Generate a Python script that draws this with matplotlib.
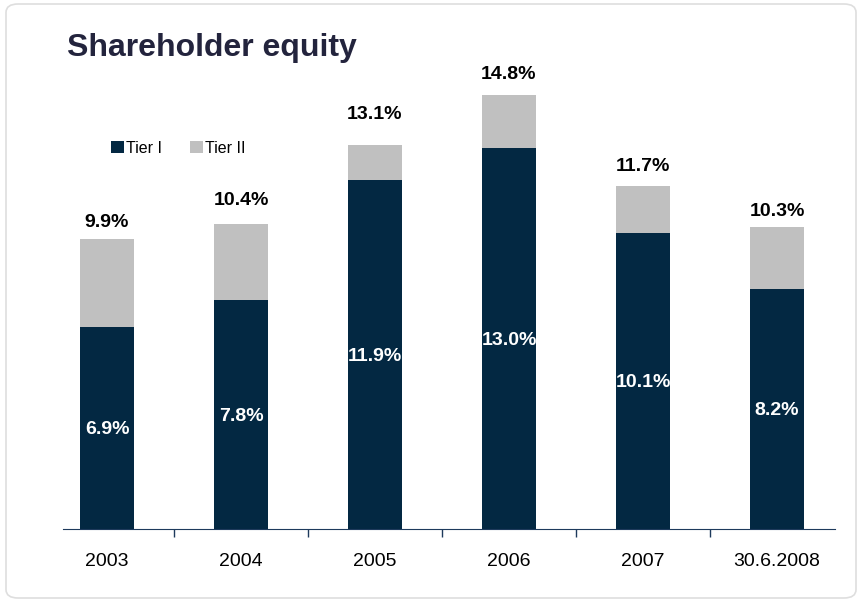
import matplotlib

matplotlib.use("Agg")
import matplotlib.pyplot as plt
from matplotlib.patches import FancyBboxPatch, Rectangle

plt.rcParams["font.family"] = ["Liberation Sans", "DejaVu Sans"]

# datos (capital en % de activos ponderados por riesgo)
periodos = ["2003", "2004", "2005", "2006", "2007", "30.6.2008"]
tier1 = [6.9, 7.8, 11.9, 13.0, 10.1, 8.2]
total = [9.9, 10.4, 13.1, 14.8, 11.7, 10.3]
tier2 = [round(t - a, 1) for t, a in zip(total, tier1)]

NAVY = "#032842"
GRIS = "#c0c0c0"

fig = plt.figure(figsize=(8.6, 6.02), dpi=100)
ax = fig.add_axes([40 / 860, 73 / 602, 804 / 860, 469 / 602])

x = list(range(len(periodos)))
ax.bar(x, tier1, width=0.4, color=NAVY, label="Tier I")
ax.bar(x, tier2, width=0.4, bottom=tier1, color=GRIS, label="Tier II")

# etiquetas dentro del Tier I
for xi, v in zip(x, tier1):
    ax.text(xi, v / 2, f"{v:.1f}%", ha="center", va="center_baseline", color="white",
            fontsize=14, fontweight="bold")

# etiquetas del total (desplazamiento en px, como en el original)
desplaz = [18, 25.5, 33, 23, 22, 18]
for xi, v, d in zip(x, total, desplaz):
    t = ax.annotate(f"{v:.1f}%", (xi, v), xytext=(0, d * 0.72), textcoords="offset points",
                    ha="center", va="center_baseline", fontsize=14, fontweight="bold",
                    color="black")
    if xi == 1:
        # en el original el "10.4%" sale recortado justo en la linea base
        recorte = Rectangle((0, (602 - 206.5) / 602), 1, 1, transform=fig.transFigure)
        t.set_clip_on(True)
        t.set_clip_path(recorte)

ax.set_xlim(-0.5, 5.5)
ax.set_ylim(0, 16)
for lado in ["top", "right", "left"]:
    ax.spines[lado].set_visible(False)
ax.spines["bottom"].set_color("#1e3a5c")
ax.spines["bottom"].set_bounds(-0.33, 5.43)
ax.set_yticks([])
ax.set_xticks(x)
ax.set_xticklabels(periodos, fontsize=14)
ax.tick_params(axis="x", which="major", length=0, pad=17)
ax.set_xticks([0.5, 1.5, 2.5, 3.5, 4.5], minor=True)
ax.tick_params(axis="x", which="minor", length=6, color="#1e3a5c", width=1)

fig.legend(loc="center left", bbox_to_anchor=(111 / 860, 1 - 148 / 602), ncol=2,
           frameon=False, fontsize=11.5, handlelength=0.8, handleheight=0.8,
           handletextpad=0.15, columnspacing=1.75, borderpad=0, borderaxespad=0)

fig.text(67 / 860, 1 - 48 / 602, "Shareholder equity", fontsize=23, fontweight="bold",
         color="#23243d", va="center", ha="left")

marco = FancyBboxPatch((6 / 860, 4 / 602), 850 / 860, 594 / 602,
                       boxstyle="round,pad=0,rounding_size=0.014", transform=fig.transFigure,
                       ec="#dedede", fc="none", lw=1.2)
fig.patches.append(marco)

fig.savefig("out.png", dpi=100)
